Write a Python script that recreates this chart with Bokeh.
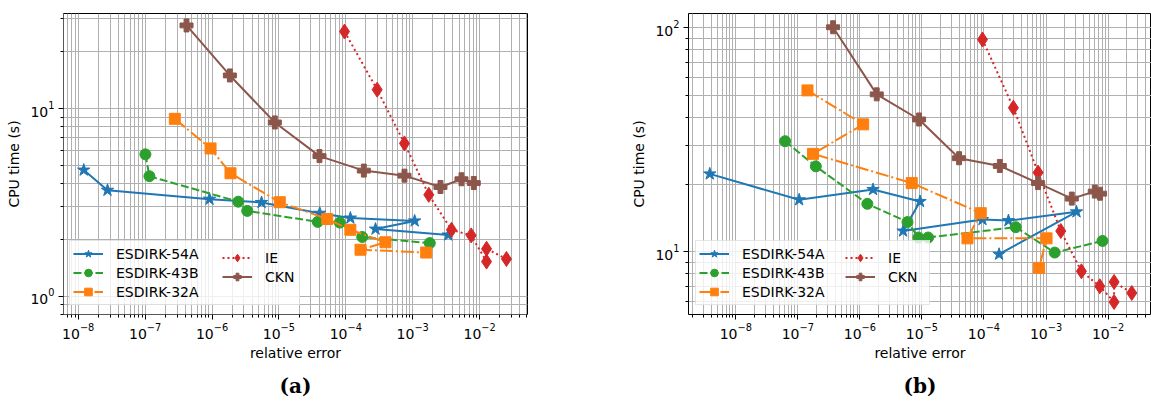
from bokeh.plotting import figure
from bokeh.layouts import row
from bokeh.models import Range1d, FixedTicker, Legend, LegendItem, Title
from bokeh.embed import file_html
from bokeh.resources import INLINE

# ---------------- panel (a) ----------------
a_esdirk54a_err = [1.21e-8, 2.74e-8, 9.18e-7, 5.5e-6, 4.08e-5, 1.17e-4, 1.07e-3, 2.78e-4, 3.4e-3]
a_esdirk54a_cpu = [4.70, 3.67, 3.29, 3.16, 2.77, 2.61, 2.52, 2.28, 2.12]
a_esdirk43b_err = [1.01e-7, 1.16e-7, 2.47e-6, 3.36e-6, 3.81e-5, 8.13e-5, 1.76e-4, 1.80e-3]
a_esdirk43b_cpu = [5.70, 4.36, 3.19, 2.85, 2.49, 2.47, 2.07, 1.92]
a_esdirk32a_err = [2.78e-7, 9.51e-7, 1.89e-6, 1.03e-5, 5.27e-5, 1.17e-4, 3.92e-4, 1.66e-4, 1.59e-3]
a_esdirk32a_cpu = [8.81, 6.13, 4.52, 3.17, 2.58, 2.26, 1.94, 1.77, 1.71]
a_ie_err = [9.57e-5, 2.94e-4, 7.53e-4, 1.74e-3, 3.80e-3, 7.48e-3, 1.27e-2, 1.27e-2, 2.52e-2]
a_ie_cpu = [25.7, 12.6, 6.52, 3.47, 2.26, 2.11, 1.53, 1.79, 1.58]
a_ckn_err = [4.16e-7, 1.85e-6, 8.69e-6, 4.04e-5, 1.86e-4, 7.53e-4, 2.60e-3, 5.36e-3, 8.18e-3]
a_ckn_cpu = [27.7, 15.0, 8.43, 5.58, 4.67, 4.39, 3.82, 4.20, 4.01]

# ---------------- panel (b) ----------------
b_esdirk54a_err = [3.81e-9, 1.05e-7, 1.63e-6, 9.33e-6, 4.97e-6, 9.46e-5, 2.48e-4, 3.10e-3, 1.75e-4]
b_esdirk54a_cpu = [22.3, 17.1, 19.0, 16.8, 12.4, 13.95, 13.8, 15.1, 9.77]
b_esdirk43b_err = [6.24e-8, 1.95e-7, 1.32e-6, 5.85e-6, 8.79e-6, 1.26e-5, 3.25e-4, 1.38e-3, 8.13e-3]
b_esdirk43b_cpu = [31.2, 24.1, 16.4, 13.6, 11.6, 11.6, 12.9, 9.94, 11.2]
b_esdirk32a_err = [1.43e-7, 1.13e-6, 1.76e-7, 6.85e-6, 8.87e-5, 5.42e-5, 1.02e-3, 7.73e-4]
b_esdirk32a_cpu = [52.6, 37.1, 27.4, 20.3, 14.9, 11.5, 11.5, 8.49]
b_ie_err = [9.46e-5, 2.98e-4, 7.45e-4, 1.73e-3, 3.72e-3, 7.35e-3, 1.25e-2, 1.25e-2, 2.41e-2]
b_ie_cpu = [88.7, 44.0, 22.6, 12.4, 8.20, 7.03, 5.98, 7.35, 6.56]
b_ckn_err = [3.70e-7, 1.87e-6, 9.0e-6, 3.97e-5, 1.80e-4, 7.45e-4, 2.60e-3, 6.11e-3, 7.43e-3]
b_ckn_cpu = [100.6, 50.5, 39.0, 26.2, 24.2, 20.3, 17.3, 18.6, 18.2]

series_names = ["ESDIRK-54A", "ESDIRK-43B", "ESDIRK-32A", "IE", "CKN"]
x_major_ticks = [1e-8, 1e-7, 1e-6, 1e-5, 1e-4, 1e-3, 1e-2]
a_y_major_ticks = [1.0, 10.0]
b_y_major_ticks = [10.0, 100.0]
x_label = "relative error"
y_label = "CPU time (s)"
captions = ["(a)", "(b)"]

COLORS = ["#1f77b4", "#2ca02c", "#ff7f0e", "#d62728", "#8c564b"]
DASHES = ["solid", "8 3", "13 3 2 3", "2 3", "solid"]
MARKERS = ["star", "circle", "square", "diamond", "plus"]
MSIZES = [13, 11, 11, 15, 13]

minor = [m * 10.0 ** k for k in range(-10, 4) for m in range(2, 10)]
FONT = "DejaVu Sans"


def make_legend(items, loc, label_width, framed):
    leg = Legend(items=items, location=loc, orientation="vertical",
                 label_text_font=FONT, label_text_font_size="14px",
                 label_text_color="black",
                 glyph_width=30, glyph_height=19, label_height=19,
                 label_width=label_width,
                 label_standoff=13, padding=3, spacing=0, margin=0)
    if framed:
        leg.border_line_color = "#cccccc"
        leg.border_line_width = 1
        leg.background_fill_color = "white"
        leg.background_fill_alpha = 0.8
    else:
        leg.border_line_color = None
        leg.background_fill_alpha = 0
    return leg


def panel(data, xr, yr, ymaj, caption, width, bl, br, bb, leg_x, col2_x, lab_w):
    p = figure(width=width, height=407, x_axis_type="log", y_axis_type="log",
               x_range=Range1d(*xr), y_range=Range1d(*yr),
               output_backend="svg", toolbar_location=None,
               min_border_left=bl, min_border_right=br, min_border_top=13,
               min_border_bottom=bb)
    p.outline_line_color = "black"
    p.outline_line_width = 1
    p.xaxis.ticker = FixedTicker(ticks=x_major_ticks, minor_ticks=minor)
    p.yaxis.ticker = FixedTicker(ticks=ymaj, minor_ticks=minor)
    for g in (p.xgrid, p.ygrid):
        g.grid_line_color = "#b0b0b0"
        g.grid_line_width = 1
        g.minor_grid_line_color = "#b0b0b0"
        g.minor_grid_line_width = 1
    for ax in (p.xaxis, p.yaxis):
        ax.axis_line_color = None
        ax.major_tick_line_color = "black"
        ax.minor_tick_line_color = "black"
        ax.major_tick_out = 5
        ax.major_tick_in = 0
        ax.minor_tick_out = 3
        ax.minor_tick_in = 0
        ax.major_label_text_font = FONT
        ax.major_label_text_font_size = "14px"
        ax.major_label_text_color = "black"
        ax.axis_label_text_font = FONT
        ax.axis_label_text_font_size = "14px"
        ax.axis_label_text_font_style = "normal"
        ax.axis_label_text_color = "black"
    p.xaxis.axis_label = x_label
    p.yaxis.axis_label = y_label
    p.xaxis.major_label_standoff = 3
    p.yaxis.major_label_standoff = 4
    p.xaxis.axis_label_standoff = 3
    p.yaxis.axis_label_standoff = 5

    items = []
    for i, (ex, cy) in enumerate(data):
        lr = p.line(ex, cy, line_color=COLORS[i], line_width=2, line_dash=DASHES[i])
        sr = p.scatter(ex, cy, marker=MARKERS[i], size=MSIZES[i],
                       fill_color=COLORS[i], line_color=COLORS[i])
        items.append(LegendItem(label=series_names[i], renderers=[lr, sr]))
    # legend box: first column carries the frame, second column drawn on top of it
    leg1 = make_legend(items[:3], (leg_x, 9), lab_w, True)
    leg2 = make_legend(items[3:], (col2_x, 28), 20, False)
    p.add_layout(leg1, "center")
    p.add_layout(leg2, "center")
    t = Title(text=caption, align="center", text_font="DejaVu Serif",
              text_font_style="bold", text_font_size="20px", text_color="black",
              standoff=17, offset=-7)
    p.add_layout(t, "below")
    return p


pa = panel([(a_esdirk54a_err, a_esdirk54a_cpu), (a_esdirk43b_err, a_esdirk43b_cpu),
            (a_esdirk32a_err, a_esdirk32a_cpu), (a_ie_err, a_ie_cpu), (a_ckn_err, a_ckn_cpu)],
           (10 ** -8.22, 10 ** -1.284), (10 ** -0.097, 10 ** 1.506), a_y_major_ticks,
           captions[0], 575, 63, 48, 92, 6, 159, 180)
pb = panel([(b_esdirk54a_err, b_esdirk54a_cpu), (b_esdirk43b_err, b_esdirk43b_cpu),
            (b_esdirk32a_err, b_esdirk32a_cpu), (b_ie_err, b_ie_cpu), (b_ckn_err, b_ckn_cpu)],
           (10 ** -8.762, 10 ** -1.300), (10 ** 0.721, 10 ** 2.064), b_y_major_ticks,
           captions[1], 576, 113, 0, 93, 7, 157, 184)

layout = row(pa, pb, spacing=0)
open("out.html", "w").write(file_html(layout, INLINE))
